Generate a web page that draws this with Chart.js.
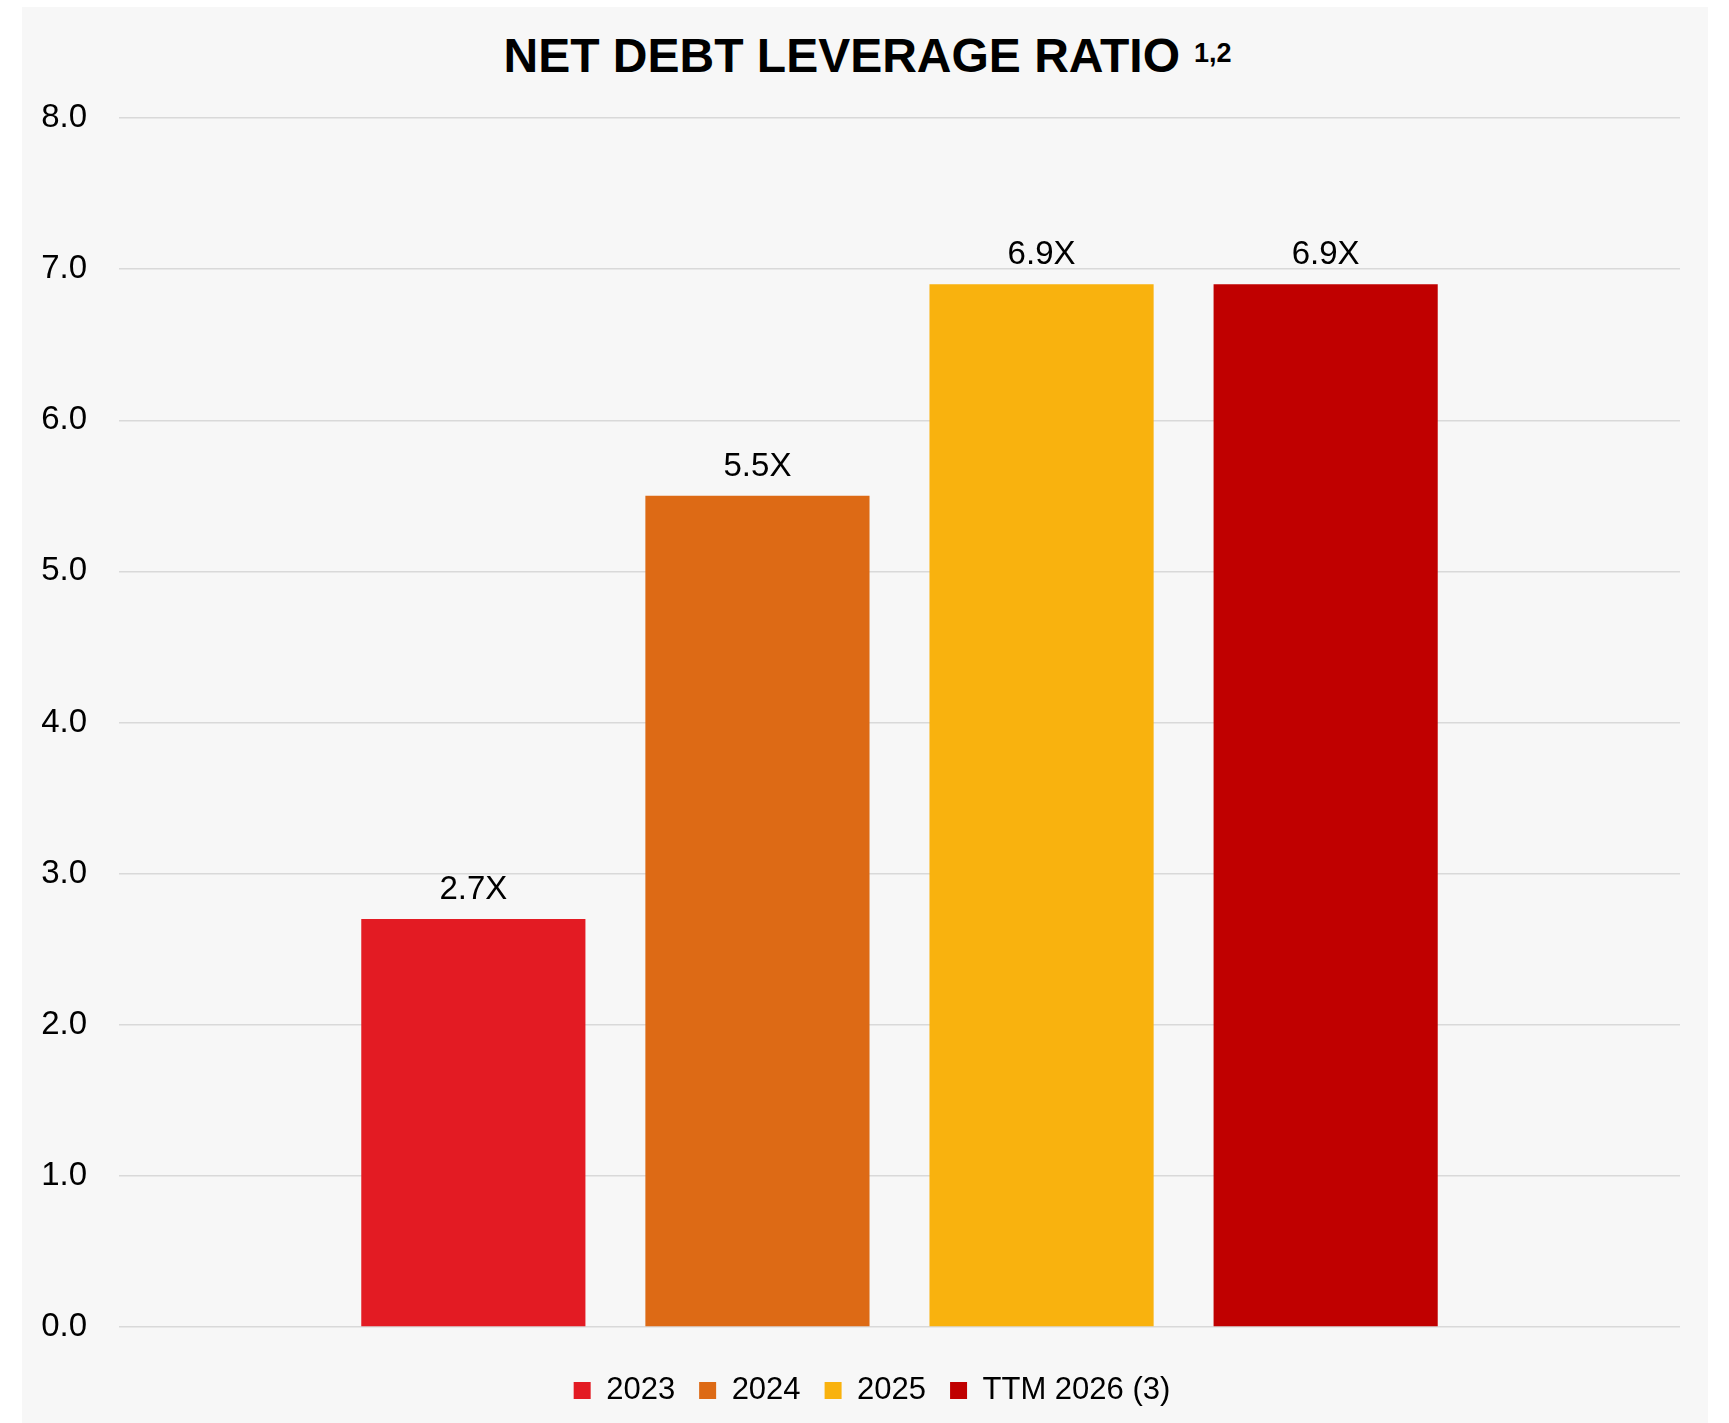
<!DOCTYPE html>
<html>
<head>
<meta charset="utf-8">
<script src="https://cdn.jsdelivr.net/npm/chart.js@4/dist/chart.umd.min.js"></script>
<style>
  html, body { margin: 0; padding: 0; background: #fff; }
  #page { position: relative; width: 1729px; height: 1423px; overflow: hidden; }
  #panel { position: absolute; left: 22px; top: 7px; width: 1686px; height: 1416px; background: #f7f7f7; }
  #title {
    position: absolute; left: 3px; top: 32px; width: 1729px; text-align: center;
    font: bold 48px/48px "Liberation Sans", Arial, sans-serif; color: #000; margin: 0;
  }
  #title span { font-size: 27px; position: relative; top: -10px; margin-left: 14px; }
  #wrap { position: absolute; left: 0; top: 0; width: 1729px; height: 1423px; }
</style>
</head>
<body>
<div id="page">
  <div id="panel"></div>
  <h1 id="title">NET DEBT LEVERAGE RATIO<span>1,2</span></h1>
  <div id="wrap"><canvas id="chart"></canvas></div>
</div>
<script>
const SERIES_LABELS = ["2023", "2024", "2025", "TTM 2026 (3)"];
const SERIES_VALUES = [2.7, 5.5, 6.9, 6.9];
const SERIES_COLORS = ["#e31b23", "#dd6a15", "#f9b20e", "#c00000"];
const Y_TICK_MIN = 0, Y_TICK_MAX = 8, Y_TICK_STEP = 1;

Chart.defaults.font.family = '"Liberation Sans", Arial, sans-serif';
Chart.defaults.color = "#000";

// value labels above each bar, e.g. "2.7X"
const barLabels = {
  id: "barLabels",
  afterDatasetsDraw(chart) {
    const ctx = chart.ctx;
    ctx.save();
    ctx.font = '33px "Liberation Sans", Arial, sans-serif';
    ctx.fillStyle = "#000";
    ctx.textAlign = "center";
    ctx.textBaseline = "alphabetic";
    chart.data.datasets.forEach((ds, i) => {
      chart.getDatasetMeta(i).data.forEach((bar, j) => {
        ctx.fillText(ds.data[j].toFixed(1) + "X", bar.x, bar.y - 20);
      });
    });
    ctx.restore();
  }
};

// the legend in the original sits a bit right of the canvas centre
const legendShift = {
  id: "legendShift",
  afterLayout(chart) {
    chart.legend.left += 17;
    chart.legend.right += 17;
  }
};

const datasets = SERIES_LABELS.map((label, i) => ({
  label,
  data: [SERIES_VALUES[i]],
  backgroundColor: SERIES_COLORS[i],
  borderWidth: 0,
  categoryPercentage: 0.728,
  barPercentage: 0.789,
}));

new Chart(document.getElementById("chart"), {
  type: "bar",
  data: { labels: [""], datasets },
  plugins: [barLabels, legendShift],
  options: {
    responsive: true,
    maintainAspectRatio: false,
    animation: false,
    layout: { padding: { top: 118, left: 30, right: 49, bottom: 7 } },
    scales: {
      x: {
        grid: { display: false },
        border: { display: false },
        ticks: { display: false },
        afterFit(scale) { scale.height = 24; },
      },
      y: {
        min: Y_TICK_MIN,
        max: Y_TICK_MAX,
        grid: { color: "#d9d9d9", lineWidth: 1.5, drawTicks: false },
        border: { display: false },
        ticks: {
          stepSize: Y_TICK_STEP,
          padding: 32,
          font: { size: 33 },
          color: "#000",
          callback: v => Number(v).toFixed(1),
        },
        afterFit(scale) { scale.width = 89; },
      },
    },
    plugins: {
      legend: {
        position: "bottom",
        labels: { boxWidth: 17, boxHeight: 17, padding: 24, font: { size: 31 }, color: "#000" },
      },
      tooltip: { enabled: false },
    },
  },
});
</script>
</body>
</html>
